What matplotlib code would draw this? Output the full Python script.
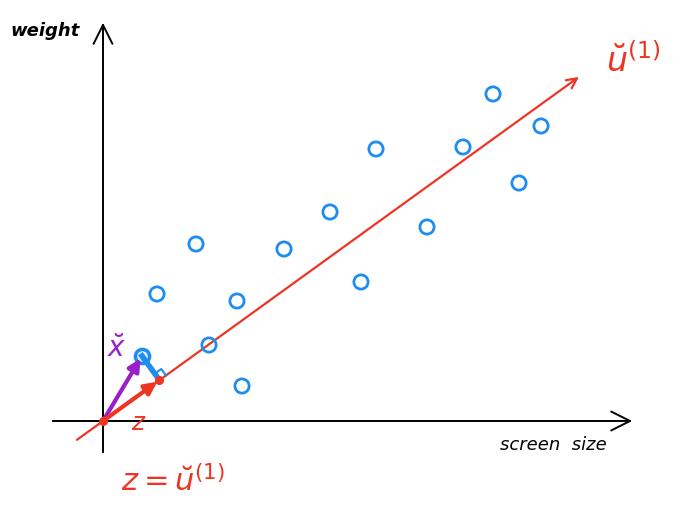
import matplotlib.pyplot as plt
import numpy as np

# data points (screen size, weight), origin at axis crossing
screen_size = [54, 93, 134, 106, 139, 39, 181, 227, 258, 273, 324, 360, 390, 416, 438]
weight = [127, 177, 120, 76, 35, 65, 172, 209, 139, 272, 194, 274, 327, 238, 295]
highlight = 5  # the point x^(i) that gets projected

# principal direction u^(1)
u_dir = np.array([1.0, 0.723])
u_dir = u_dir / np.linalg.norm(u_dir)

RED = "#ee3524"
BLUE = "#1e8cf0"
PURPLE = "#9a1fc9"

fig = plt.figure(figsize=(6.78, 5.11), dpi=100)
ax = fig.add_axes([0, 0, 1, 1])
ax.set_xlim(-103, 575)
ax.set_ylim(-90, 421)
ax.axis("off")

# axes as arrows
ax.annotate("", xy=(532, 0), xytext=(-53, 0),
            arrowprops=dict(arrowstyle="->", lw=1.4, color="black", mutation_scale=34))
ax.annotate("", xy=(0, 401), xytext=(0, -34),
            arrowprops=dict(arrowstyle="->", lw=1.4, color="black", mutation_scale=34))
ax.text(-58, 390, "weight", fontsize=13, style="italic", fontweight="semibold",
        ha="center", va="center")
ax.text(450, -24, "screen  size", fontsize=13, style="italic",
        ha="center", va="center")

# principal component line
t0, t1 = -35, 590
ax.annotate("", xy=tuple(u_dir * t1), xytext=tuple(u_dir * t0),
            arrowprops=dict(arrowstyle="->", lw=1.6, color=RED, mutation_scale=18))

# scatter
xs = np.array(screen_size)
ys = np.array(weight)
mask = np.arange(len(xs)) != highlight
ax.scatter(xs[mask], ys[mask], s=105, facecolors="none", edgecolors=BLUE, linewidths=2, zorder=3)
ax.scatter(xs[highlight], ys[highlight], s=105, facecolors="#d6e9ff", edgecolors=BLUE,
           linewidths=2.5, zorder=3)

# projection of the highlighted point
p = np.array([xs[highlight], ys[highlight]], dtype=float)
proj = u_dir * p.dot(u_dir)
ax.plot([p[0], proj[0]], [p[1], proj[1]], color=BLUE, lw=4, zorder=4)
ax.annotate("", xy=tuple(p), xytext=(0, 0),
            arrowprops=dict(arrowstyle="-|>", lw=3, color=PURPLE, mutation_scale=18), zorder=5)
ax.annotate("", xy=tuple(proj), xytext=(0, 0),
            arrowprops=dict(arrowstyle="-|>", lw=3, color=RED, mutation_scale=18), zorder=5)
ax.scatter([0, proj[0]], [0, proj[1]], s=30, color=RED, zorder=6)

# right angle mark
n_dir = np.array([-u_dir[1], u_dir[0]])
c1 = proj + u_dir * 8
c2 = c1 + n_dir * 8
c3 = proj + n_dir * 8
ax.plot([c1[0], c2[0], c3[0]], [c1[1], c2[1], c3[1]], color=BLUE, lw=1.5, zorder=4)

# labels
ax.text(14, 72, r"$\breve{x}$", fontsize=20, color=PURPLE, ha="center", va="center")
ax.text(36, -2, r"$z$", fontsize=18, color=RED, ha="center", va="center")
ax.text(70, -60, r"$z = \breve{u}^{(1)}$", fontsize=22, color=RED, ha="center", va="center")
ax.text(530, 360, r"$\breve{u}^{(1)}$", fontsize=24, color=RED, ha="center", va="center")

fig.savefig("out.png", dpi=100)
